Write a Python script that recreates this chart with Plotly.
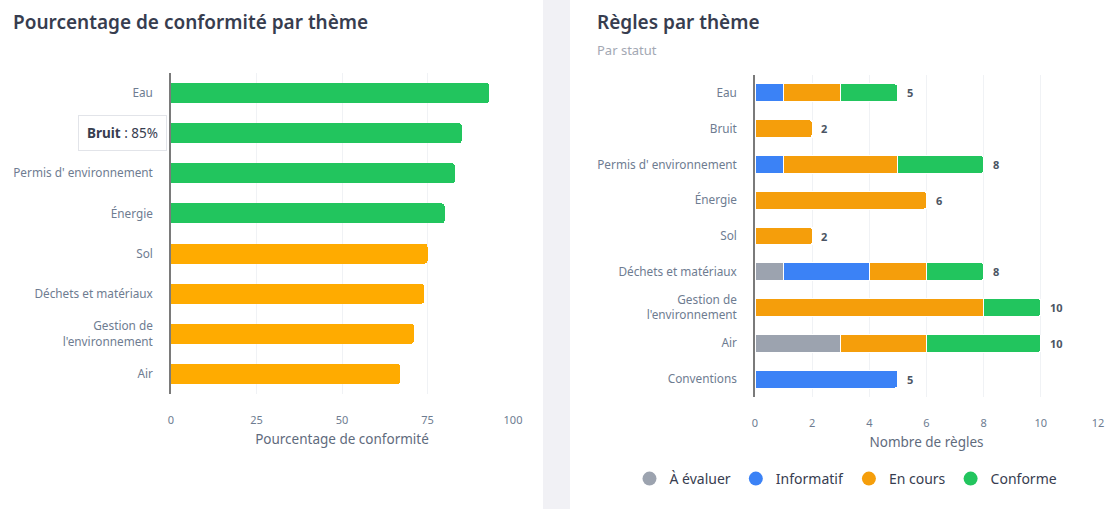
import plotly.graph_objects as go

# left chart: compliance percentage per theme
themes_pct = ['Eau', 'Bruit', "Permis d' environnement", 'Énergie', 'Sol',
              'Déchets et matériaux', "Gestion de<br>l'environnement", 'Air']
pct_values = [93, 85, 83, 80, 75, 74, 71, 67]
pct_colors = ['#22c55e'] * 4 + ['#ffab00'] * 4

# right chart: rules per theme, by status
themes_rules = ['Eau', 'Bruit', "Permis d' environnement", 'Énergie', 'Sol',
                'Déchets et matériaux', "Gestion de<br>l'environnement", 'Air', 'Conventions']
statuses = ['À évaluer', 'Informatif', 'En cours', 'Conforme']
status_colors = ['#9ca3af', '#3b82f6', '#f59e0b', '#22c55e']
a_evaluer = [0, 0, 0, 0, 0, 1, 0, 3, 0]
informatif = [1, 0, 1, 0, 0, 3, 0, 0, 5]
en_cours = [2, 2, 4, 6, 2, 2, 8, 3, 0]
conforme = [2, 0, 3, 0, 0, 2, 2, 4, 0]
totals = [a + b + c + d for a, b, c, d in zip(a_evaluer, informatif, en_cours, conforme)]

# the tooltip on "Bruit" hides its axis label in the screenshot
hovered = 'Bruit'
hovered_value = pct_values[themes_pct.index(hovered)]

W, H = 1111, 509
FONT = 'Noto Sans'
TICK_COLOR = '#6e7c91'
TITLE_COLOR = '#373d4f'


def px_x(p):
    return p / W


def px_y(p):
    return (H - p) / H


fig = go.Figure()

fig.add_trace(go.Bar(
    x=pct_values, y=themes_pct, orientation='h',
    marker=dict(color=pct_colors, line=dict(width=0)),
    xaxis='x', yaxis='y', showlegend=False, hoverinfo='skip'))

for name, vals, col in zip(statuses, [a_evaluer, informatif, en_cours, conforme], status_colors):
    fig.add_trace(go.Bar(
        x=vals, y=themes_rules, orientation='h', name=name,
        marker=dict(color=col, line=dict(color='white', width=1)),
        xaxis='x2', yaxis='y2', showlegend=False, hoverinfo='skip'))
    # circle markers for the legend
    fig.add_trace(go.Scatter(
        x=[None], y=[None], mode='markers', name=name,
        marker=dict(color=col, size=14, symbol='circle'),
        xaxis='x2', yaxis='y2', showlegend=True))

axis_common = dict(showgrid=True, gridcolor='#f0f2f5', zeroline=False, automargin=False,
                   tickfont=dict(size=11, color=TICK_COLOR, family=FONT),
                   ticks='outside', ticklen=16, tickcolor='rgba(0,0,0,0)')
yaxis_common = dict(showgrid=False, zeroline=False, showline=True, linecolor='#7a7a7a', linewidth=1.5,
                    autorange='reversed', categoryorder='array', automargin=False,
                    tickfont=dict(size=11.8, color=TICK_COLOR, family=FONT),
                    ticks='outside', ticklen=14, tickcolor='rgba(0,0,0,0)')

# total labels at the end of each stacked bar
total_labels = [dict(text='<b>%d</b>' % t, xref='x2', yref='y2', x=t, y=th,
                     xanchor='left', yanchor='middle', xshift=7, showarrow=False,
                     font=dict(size=11, color='#4b5563'))
                for t, th in zip(totals, themes_rules)]

fig.update_layout(
    width=W, height=H,
    margin=dict(l=0, r=0, t=0, b=0, autoexpand=False),
    paper_bgcolor='white', plot_bgcolor='white',
    font=dict(family=FONT, color=TITLE_COLOR),
    barmode='stack', bargap=0.5, barcornerradius=3,
    xaxis=dict(axis_common, domain=[px_x(171), px_x(513)], range=[0, 100], dtick=25,
               title=dict(text='Pourcentage de conformité', font=dict(size=13.5, color='#5f6b7d'), standoff=8),
               anchor='y'),
    yaxis=dict(yaxis_common, domain=[px_y(394), px_y(73)], categoryarray=themes_pct, anchor='x',
               tickmode='array', tickvals=themes_pct,
               ticktext=['' if t == hovered else t for t in themes_pct]),
    xaxis2=dict(axis_common, domain=[px_x(755), px_x(1098)], range=[0, 12], dtick=2,
                title=dict(text='Nombre de règles', font=dict(size=13.5, color='#5f6b7d'), standoff=8),
                anchor='y2'),
    yaxis2=dict(yaxis_common, domain=[px_y(397), px_y(75)], categoryarray=themes_rules, anchor='x2'),
    legend=dict(orientation='h', x=px_x(846), xanchor='center', y=px_y(479), yanchor='middle',
                traceorder='normal',
                font=dict(size=14, color=TITLE_COLOR, family=FONT), bgcolor='rgba(0,0,0,0)'),
    shapes=[dict(type='rect', xref='paper', yref='paper', x0=px_x(543), x1=px_x(570), y0=0, y1=1,
                 fillcolor='#f1f1f5', line=dict(width=0), layer='below')],
    annotations=total_labels + [
        dict(text='Pourcentage de conformité par thème', xref='paper', yref='paper',
             x=px_x(11), y=px_y(22), xanchor='left', yanchor='middle', showarrow=False,
             font=dict(size=19, color=TITLE_COLOR, weight=600)),
        dict(text='Règles par thème', xref='paper', yref='paper',
             x=px_x(595), y=px_y(22), xanchor='left', yanchor='middle', showarrow=False,
             font=dict(size=19, color=TITLE_COLOR, weight=600)),
        dict(text='Par statut', xref='paper', yref='paper',
             x=px_x(595), y=px_y(50), xanchor='left', yanchor='middle', showarrow=False,
             font=dict(size=13, color='#a3a8b3')),
        # hover tooltip shown on the Bruit bar
        dict(text='<b>%s</b> : %d%%' % (hovered, hovered_value), xref='x', yref='y', x=0, y=hovered,
             xanchor='right', yanchor='middle', xshift=-4, showarrow=False,
             bgcolor='white', bordercolor='#e2e4e9', borderwidth=1, borderpad=8,
             font=dict(size=13.5, color=TITLE_COLOR)),
    ],
)

fig.write_html('out.html', config={'displayModeBar': False},
               post_script="document.body.style.margin='0';")
